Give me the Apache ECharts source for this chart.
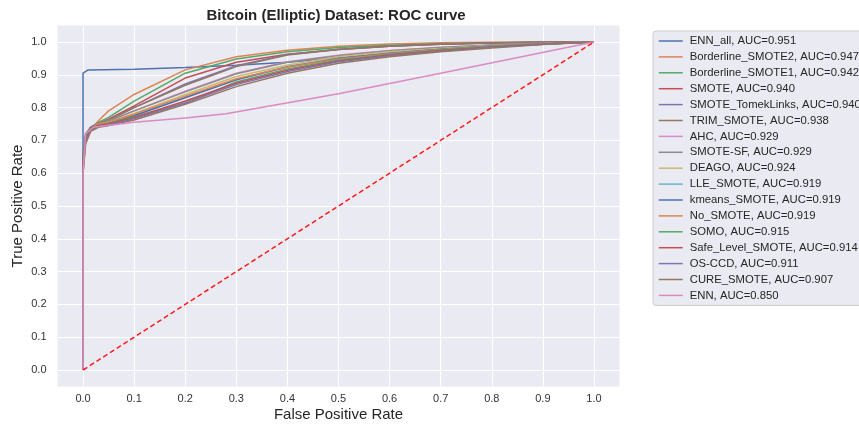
<!DOCTYPE html>
<html>
<head>
<meta charset="utf-8">
<script src="https://cdn.jsdelivr.net/npm/echarts@6/dist/echarts.min.js"></script>
<style>html,body{margin:0;padding:0;background:#fff}#c{width:859px;height:427px}</style>
</head>
<body>
<div id="c"></div>
<script>
// ---------- data ----------
const TICKS = [0, 0.1, 0.2, 0.3, 0.4, 0.5, 0.6, 0.7, 0.8, 0.9, 1.0];
const FPR_GRID = [0, 0, 0.005, 0.015, 0.03, 0.05, 0.1, 0.2, 0.3, 0.4, 0.5, 0.6, 0.7, 0.8, 0.9, 1.0];

const FPR_ENN_ALL = [0, 0, 0.01, 0.1, 0.2, 0.3, 0.4, 0.5, 0.6, 0.7, 0.8, 0.9, 1.0];
const TPR_ENN_ALL = [0, 0.905, 0.915, 0.917, 0.922, 0.929, 0.938, 0.952, 0.965, 0.975, 0.985, 0.993, 1.0];

const FPR_ENN = [0, 0, 0.005, 0.02, 0.1, 0.2, 0.28, 0.5, 0.7, 1.0];
const TPR_ENN = [0, 0.6, 0.72, 0.74, 0.755, 0.768, 0.781, 0.842, 0.905, 1.0];

const TPR_BORDERLINE_SMOTE2 = [0, 0.60, 0.69, 0.73, 0.76, 0.79, 0.84, 0.915, 0.955, 0.975, 0.987, 0.994, 0.998, 0.999, 1.0, 1.0];
const TPR_BORDERLINE_SMOTE1 = [0, 0.63, 0.71, 0.74, 0.755, 0.77, 0.82, 0.905, 0.948, 0.970, 0.983, 0.990, 0.995, 0.998, 0.999, 1.0];
const TPR_SMOTE            = [0, 0.65, 0.715, 0.74, 0.752, 0.765, 0.805, 0.89, 0.938, 0.963, 0.977, 0.987, 0.993, 0.997, 0.999, 1.0];
const TPR_SMOTE_TOMEK      = [0, 0.64, 0.71, 0.735, 0.75, 0.762, 0.80, 0.872, 0.928, 0.962, 0.978, 0.988, 0.994, 0.997, 0.999, 1.0];
const TPR_TRIM_SMOTE       = [0, 0.66, 0.72, 0.74, 0.752, 0.762, 0.80, 0.868, 0.925, 0.96, 0.977, 0.987, 0.993, 0.997, 0.999, 1.0];
const TPR_AHC              = [0, 0.62, 0.70, 0.735, 0.75, 0.758, 0.79, 0.85, 0.905, 0.94, 0.96, 0.974, 0.984, 0.991, 0.996, 1.0];
const TPR_SMOTE_SF         = [0, 0.66, 0.72, 0.74, 0.752, 0.76, 0.79, 0.848, 0.903, 0.938, 0.958, 0.973, 0.983, 0.991, 0.996, 1.0];
const TPR_DEAGO            = [0, 0.63, 0.70, 0.735, 0.748, 0.755, 0.782, 0.84, 0.895, 0.93, 0.955, 0.970, 0.980, 0.989, 0.995, 1.0];
const TPR_LLE_SMOTE        = [0, 0.64, 0.71, 0.735, 0.748, 0.755, 0.777, 0.832, 0.885, 0.925, 0.950, 0.966, 0.978, 0.988, 0.995, 1.0];
const TPR_KMEANS_SMOTE     = [0, 0.65, 0.71, 0.738, 0.748, 0.752, 0.775, 0.830, 0.885, 0.924, 0.950, 0.966, 0.978, 0.988, 0.995, 1.0];
const TPR_NO_SMOTE         = [0, 0.61, 0.70, 0.735, 0.75, 0.756, 0.78, 0.835, 0.888, 0.924, 0.948, 0.964, 0.977, 0.987, 0.995, 1.0];
const TPR_SOMO             = [0, 0.64, 0.71, 0.735, 0.745, 0.752, 0.772, 0.814, 0.878, 0.918, 0.945, 0.962, 0.976, 0.986, 0.994, 1.0];
const TPR_SAFE_LEVEL       = [0, 0.63, 0.705, 0.735, 0.745, 0.75, 0.770, 0.820, 0.874, 0.914, 0.942, 0.960, 0.974, 0.985, 0.994, 1.0];
const TPR_OS_CCD           = [0, 0.62, 0.70, 0.73, 0.742, 0.748, 0.766, 0.815, 0.870, 0.910, 0.940, 0.958, 0.972, 0.984, 0.993, 1.0];
const TPR_CURE_SMOTE       = [0, 0.60, 0.69, 0.728, 0.74, 0.745, 0.762, 0.810, 0.864, 0.905, 0.935, 0.955, 0.970, 0.982, 0.992, 1.0];

const DIAG_X = [0, 1];
const DIAG_Y = [0, 1];

const NAMES = [
  'ENN_all, AUC=0.951', 'Borderline_SMOTE2, AUC=0.947', 'Borderline_SMOTE1, AUC=0.942',
  'SMOTE, AUC=0.940', 'SMOTE_TomekLinks, AUC=0.940', 'TRIM_SMOTE, AUC=0.938',
  'AHC, AUC=0.929', 'SMOTE-SF, AUC=0.929', 'DEAGO, AUC=0.924', 'LLE_SMOTE, AUC=0.919',
  'kmeans_SMOTE, AUC=0.919', 'No_SMOTE, AUC=0.919', 'SOMO, AUC=0.915',
  'Safe_Level_SMOTE, AUC=0.914', 'OS-CCD, AUC=0.911', 'CURE_SMOTE, AUC=0.907', 'ENN, AUC=0.850'
];
const FPRS = [FPR_ENN_ALL, FPR_GRID, FPR_GRID, FPR_GRID, FPR_GRID, FPR_GRID, FPR_GRID, FPR_GRID,
  FPR_GRID, FPR_GRID, FPR_GRID, FPR_GRID, FPR_GRID, FPR_GRID, FPR_GRID, FPR_GRID, FPR_ENN];
const TPRS = [TPR_ENN_ALL, TPR_BORDERLINE_SMOTE2, TPR_BORDERLINE_SMOTE1, TPR_SMOTE, TPR_SMOTE_TOMEK,
  TPR_TRIM_SMOTE, TPR_AHC, TPR_SMOTE_SF, TPR_DEAGO, TPR_LLE_SMOTE, TPR_KMEANS_SMOTE, TPR_NO_SMOTE,
  TPR_SOMO, TPR_SAFE_LEVEL, TPR_OS_CCD, TPR_CURE_SMOTE, TPR_ENN];

const COLORS = ['#4C72B0', '#DD8452', '#55A868', '#C44E52', '#8172B3', '#937860', '#DA8BC3',
  '#8C8C8C', '#CCB974', '#64B5CD'];

// ---------- chart ----------
const FONT = '"Liberation Sans", Arial, sans-serif';
const series = NAMES.map((n, i) => ({
  name: n, type: 'line', symbol: 'none', showSymbol: false, z: 2 + i,
  color: COLORS[i % COLORS.length],
  lineStyle: { width: 1.5, color: COLORS[i % COLORS.length] },
  data: FPRS[i].map((x, k) => [x, TPRS[i][k]])
}));
series.push({
  name: 'diag', type: 'line', symbol: 'none', showSymbol: false, z: 30,
  lineStyle: { width: 1.5, color: '#ff1a1a', type: [5, 3] },
  data: DIAG_X.map((x, k) => [x, DIAG_Y[k]])
});

const chart = echarts.init(document.getElementById('c'), null, { renderer: 'canvas' });
chart.setOption({
  animation: false,
  backgroundColor: '#ffffff',
  textStyle: { fontFamily: FONT },
  title: {
    text: 'Bitcoin (Elliptic) Dataset: ROC curve',
    left: 331, top: 3, textAlign: 'center',
    textStyle: { fontFamily: FONT, fontSize: 15, fontWeight: 'bold', color: '#262626' }
  },
  grid: {
    left: 57.5, right: 239.5, top: 25.6, bottom: 40.6, show: true,
    backgroundColor: '#EAEAF2', borderWidth: 0, containLabel: false,
    outerBoundsMode: 'none'
  },
  legend: {
    orient: 'vertical', left: 653, top: 31,
    data: NAMES,
    itemWidth: 24, itemHeight: 12, itemGap: 3.9,
    padding: [4, 5, 4, 5],
    backgroundColor: '#EAEAF2', borderColor: '#cccccc', borderWidth: 1, borderRadius: 3,
    itemStyle: { opacity: 0 },
    lineStyle: { width: 1.5 },
    textStyle: { fontFamily: FONT, fontSize: 11.3, color: '#262626', lineHeight: 12, padding: [0, 0, 0, 2] },
    selectedMode: false
  },
  xAxis: {
    type: 'value', min: -0.05, max: 1.05,
    name: 'False Positive Rate', nameLocation: 'middle', nameGap: 21, nameMoveOverlap: false,
    nameTextStyle: { fontFamily: FONT, fontSize: 15, color: '#262626' },
    axisLine: { show: false },
    axisTick: { show: false, customValues: TICKS },
    axisLabel: { customValues: TICKS, formatter: v => v.toFixed(1), margin: 7,
      fontFamily: FONT, fontSize: 11, color: '#333' },
    splitLine: { show: true, lineStyle: { color: '#ffffff', width: 1 } }
  },
  yAxis: {
    type: 'value', min: -0.05, max: 1.05,
    name: 'True Positive Rate', nameLocation: 'middle', nameGap: 32, nameMoveOverlap: false,
    nameTextStyle: { fontFamily: FONT, fontSize: 15, color: '#262626' },
    axisLine: { show: false },
    axisTick: { show: false, customValues: TICKS },
    axisLabel: { customValues: TICKS, formatter: v => v.toFixed(1), margin: 11,
      fontFamily: FONT, fontSize: 11, color: '#333' },
    splitLine: { show: true, lineStyle: { color: '#ffffff', width: 1 } }
  },
  series: series
});
</script>
</body>
</html>
